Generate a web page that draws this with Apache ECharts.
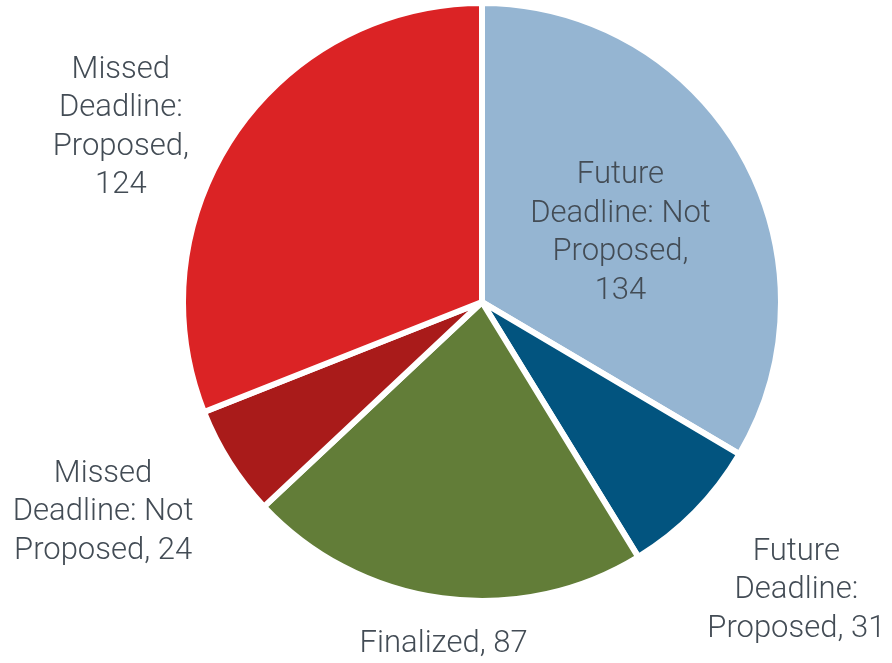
<!DOCTYPE html>
<html>
<head>
<meta charset="utf-8">
<script src="https://cdn.jsdelivr.net/npm/echarts@6/dist/echarts.min.js"></script>
<style>
html,body{margin:0;padding:0;background:#fff;}
#chart{width:892px;height:663px;}
</style>
</head>
<body>
<div id="chart"></div>
<script>
var categories = [
  'Future Deadline: Not Proposed',
  'Future Deadline: Proposed',
  'Finalized',
  'Missed Deadline: Not Proposed',
  'Missed Deadline: Proposed'
];
var values = [134, 31, 87, 24, 124];
var labelTemplates = [
  'Future\nDeadline: Not\nProposed,\n{v}',
  'Future\nDeadline:\nProposed, {v}',
  'Finalized, {v}',
  'Missed\nDeadline: Not\nProposed, {v}',
  'Missed\nDeadline:\nProposed,\n{v}'
];
var colors = ['#95B5D2', '#02547F', '#627D38', '#A91B1A', '#DB2325'];

// label placement per slice (style only)
var labelPos = ['inside', 'outside', 'outside', 'outside', 'outside'];
var lineLen = [0, 107, 42, 87, 18];
var lineLen2 = [0, 20, -12, 48, 94];
var nudgeX = [6, 0, 0, 0, 0];
var nudgeY = [7, 3.5, 4, 3.5, 4];

var data = values.map(function (v, i) {
  return {
    name: categories[i],
    value: v,
    itemStyle: { color: colors[i] },
    label: { position: labelPos[i] },
    labelLine: { show: false, length: lineLen[i], length2: lineLen2[i] }
  };
});

var chart = echarts.init(document.getElementById('chart'), null, { renderer: 'canvas' });
chart.setOption({
  animation: false,
  backgroundColor: '#ffffff',
  series: [{
    type: 'pie',
    center: [482, 302],
    radius: [0, 299],
    startAngle: 90,
    clockwise: true,
    avoidLabelOverlap: false,
    itemStyle: { borderColor: '#ffffff', borderWidth: 6 },
    label: {
      show: true,
      color: '#434c55',
      fontFamily: 'Roboto',
      fontWeight: 300,
      fontSize: 31,
      lineHeight: 38.5,
      align: 'center',
      width: 240,
      overflow: 'none',
      distanceToLabelLine: 5,
      formatter: function (p) {
        return labelTemplates[p.dataIndex].replace('{v}', p.value);
      }
    },
    labelLayout: function (p) {
      return {
        align: 'center',
        verticalAlign: 'middle',
        dx: nudgeX[p.dataIndex],
        dy: nudgeY[p.dataIndex]
      };
    },
    emphasis: { disabled: true },
    data: data
  }]
});
</script>
</body>
</html>
